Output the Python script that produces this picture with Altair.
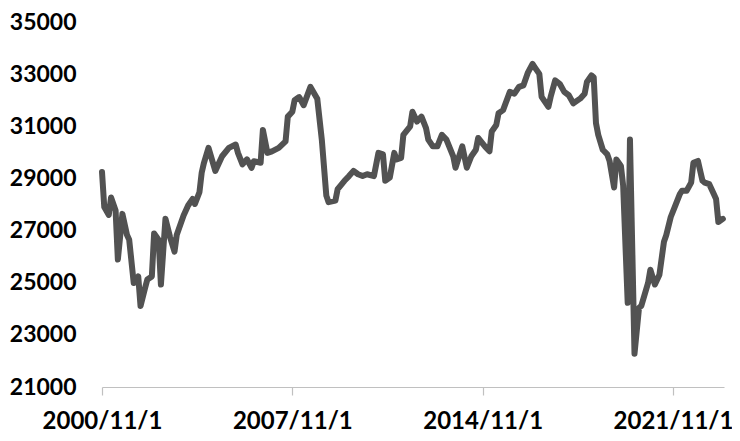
import altair as alt
import pandas as pd

# Monthly readings (YYYY-MM) and index values
dates = [
    "2000-11", "2000-12", "2001-02", "2001-03", "2001-05", "2001-06", "2001-08", "2001-10", "2001-11", "2002-01",
    "2002-03", "2002-04", "2002-06", "2002-07", "2002-09", "2002-10", "2002-12", "2003-01", "2003-03", "2003-05",
    "2003-07", "2003-08", "2003-11", "2004-01", "2004-03", "2004-04", "2004-06", "2004-07", "2004-08", "2004-10",
    "2005-01", "2005-04", "2005-07", "2005-10", "2005-11", "2006-01", "2006-03", "2006-05", "2006-06", "2006-09",
    "2006-10", "2006-12", "2007-02", "2007-05", "2007-08", "2007-09", "2007-11", "2007-12", "2008-02", "2008-04",
    "2008-07", "2008-10", "2008-12", "2009-02", "2009-03", "2009-06", "2009-07", "2009-10", "2009-12", "2010-02",
    "2010-04", "2010-06", "2010-08", "2010-11", "2011-01", "2011-03", "2011-04", "2011-06", "2011-08", "2011-09",
    "2011-11", "2011-12", "2012-03", "2012-04", "2012-06", "2012-08", "2012-10", "2012-11", "2013-01", "2013-03",
    "2013-05", "2013-07", "2013-10", "2013-11", "2014-02", "2014-04", "2014-06", "2014-08", "2014-09", "2014-12",
    "2015-02", "2015-03", "2015-05", "2015-06", "2015-08", "2015-11", "2016-01", "2016-03", "2016-05", "2016-07",
    "2016-09", "2016-10", "2016-12", "2017-01", "2017-04", "2017-05", "2017-07", "2017-09", "2017-11", "2018-01",
    "2018-03", "2018-06", "2018-08", "2018-09", "2018-11", "2018-12", "2019-01", "2019-02", "2019-04", "2019-06",
    "2019-07", "2019-09", "2019-10", "2019-12", "2020-01", "2020-03", "2020-04", "2020-06", "2020-08", "2020-09",
    "2020-12", "2021-01", "2021-03", "2021-05", "2021-07", "2021-08", "2021-10", "2021-12", "2022-02", "2022-03",
    "2022-05", "2022-07", "2022-08", "2022-10", "2022-11", "2022-12", "2023-01", "2023-03", "2023-05", "2023-06",
    "2023-07", "2023-09",
]

values = [
    29250, 27900, 27600, 28270, 27770, 25890, 27640, 26840, 26650, 24990,
    25240, 24110, 24800, 25120, 25240, 26890, 26640, 24930, 27450, 26760,
    26190, 26840, 27580, 27960, 28210, 28020, 28470, 29220, 29600, 30170,
    29290, 29850, 30170, 30300, 29980, 29540, 29730, 29410, 29660, 29600,
    30860, 29980, 30040, 30170, 30420, 31370, 31560, 32000, 32120, 31810,
    32510, 32060, 30490, 28340, 28090, 28150, 28590, 28910, 29090, 29290,
    29160, 29090, 29160, 29090, 29980, 29920, 28910, 29030, 29980, 29730,
    29790, 30670, 31000, 31560, 31180, 31370, 30930, 30490, 30230, 30230,
    30670, 30490, 29850, 29410, 30230, 29410, 29850, 30100, 30550, 30230,
    30040, 30800, 31050, 31500, 31620, 32320, 32250, 32510, 32570, 33070,
    33390, 33260, 33010, 32130, 31750, 32130, 32760, 32630, 32320, 32190,
    31880, 32060, 32250, 32700, 32950, 32880, 31120, 30670, 30100, 29920,
    29670, 28650, 29730, 29480, 28720, 24230, 30490, 22280, 24040, 24110,
    24990, 25500, 24930, 25310, 26570, 26820, 27520, 27960, 28400, 28530,
    28530, 28840, 29600, 29670, 29290, 28910, 28840, 28780, 28400, 28210,
    27330, 27450,
]

x_tick_labels = ["2000/11/1", "2007/11/1", "2014/11/1", "2021/11/1"]
x_tick_months = [0, 84, 168, 252]
y_ticks = [21000, 23000, 25000, 27000, 29000, 31000, 33000, 35000]

df = pd.DataFrame({"date": dates, "value": values})
df["m"] = df["date"].apply(lambda s: (int(s[:4]) - 2000) * 12 + int(s[5:7]) - 11)

label_expr = "[" + ",".join("'" + t + "'" for t in x_tick_labels) + "][indexof([" + \
    ",".join(str(v) for v in x_tick_months) + "], datum.value)]"

FONT = "Lato"

chart = alt.Chart(df).mark_line(
    color="#525252", strokeWidth=6, strokeJoin="round", strokeCap="round"
).encode(
    x=alt.X(
        "m:Q",
        scale=alt.Scale(domain=[0, 274.5], nice=False, zero=False),
        axis=alt.Axis(
            values=x_tick_months,
            labelExpr=label_expr,
            title=None,
            grid=False,
            domainColor="#c0c0c0",
            domainWidth=1.2,
            tickColor="#c0c0c0",
            tickWidth=1.2,
            tickSize=8,
            labelFont=FONT,
            labelFontWeight="bold",
            labelFontSize=24,
            labelColor="#000000",
            labelPadding=14,
            labelOverlap=False,
            labelFlush=False,
            labelBound=False,
        ),
    ),
    y=alt.Y(
        "value:Q",
        scale=alt.Scale(domain=[21000, 35000], nice=False, zero=False),
        axis=alt.Axis(
            values=y_ticks,
            format="d",
            title=None,
            grid=False,
            domain=False,
            ticks=False,
            labelFont=FONT,
            labelFontWeight="bold",
            labelFontSize=23,
            labelColor="#000000",
            labelPadding=26,
            labelOverlap=False,
        ),
    ),
).properties(
    width=622,
    height=365,
    padding={"left": 94, "top": 14, "right": 8, "bottom": 46},
    autosize=alt.AutoSizeParams(type="none"),
    background="white",
).configure_view(stroke=None)

chart.save("out.html", embed_options={"renderer": "svg", "actions": False})
